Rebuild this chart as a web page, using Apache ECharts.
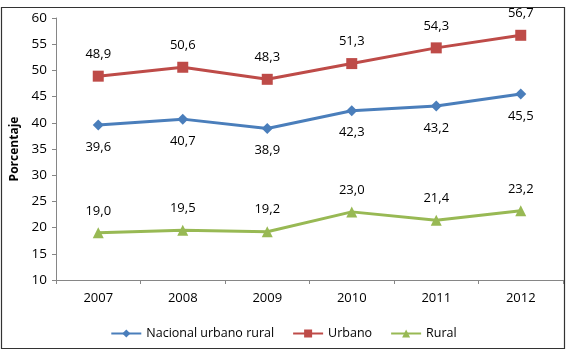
<!DOCTYPE html>
<html>
<head>
<meta charset="utf-8">
<script src="https://cdn.jsdelivr.net/npm/echarts@6/dist/echarts.min.js"></script>
<style>
  html, body { margin: 0; padding: 0; background: #fff; }
  #chart { width: 567px; height: 351px; }
</style>
</head>
<body>
<div id="chart"></div>
<script>
// datos
var years = ['2007', '2008', '2009', '2010', '2011', '2012'];
var nacional = [39.6, 40.7, 38.9, 42.3, 43.2, 45.5];
var urbano = [48.9, 50.6, 48.3, 51.3, 54.3, 56.7];
var rural = [19.0, 19.5, 19.2, 23.0, 21.4, 23.2];

var font = 'Open Sans';

function fmt(p) {
    return p.value.toFixed(1).replace('.', ',');
}

var myChart = echarts.init(document.getElementById('chart'));

var option = {
    animation: false,
    textStyle: { fontFamily: font },
    color: ['#4a7ebb', '#be4b48', '#98b954'],
    // marco exterior
    graphic: [{
        type: 'rect',
        shape: { x: 1.5, y: 7.5, width: 563, height: 341 },
        style: { fill: 'none', stroke: '#333', lineWidth: 1.2 },
        silent: true
    }],
    grid: { left: 56, right: 4, top: 18, bottom: 71 },
    legend: {
        bottom: 6,
        left: 'center',
        itemWidth: 30,
        itemHeight: 10,
        itemGap: 18,
        textStyle: { fontSize: 12.5, color: '#000', fontFamily: font },
        data: ['Nacional urbano rural', 'Urbano', 'Rural']
    },
    xAxis: {
        type: 'category',
        data: years,
        boundaryGap: true,
        axisLine: { lineStyle: { color: '#868686', width: 1 } },
        axisTick: { show: true, length: 4, lineStyle: { color: '#868686' } },
        axisLabel: { color: '#000', fontSize: 13, margin: 12 }
    },
    yAxis: {
        type: 'value',
        min: 10,
        max: 60,
        interval: 5,
        name: 'Porcentaje',
        nameLocation: 'middle',
        nameGap: 34,
        nameTextStyle: { fontSize: 12, fontWeight: 'bold', color: '#000' },
        axisLine: { show: true, lineStyle: { color: '#868686', width: 1 } },
        axisTick: { show: true, length: 4, lineStyle: { color: '#868686' } },
        axisLabel: { color: '#000', fontSize: 13.5, margin: 9 },
        splitLine: { show: false }
    },
    series: [{
        name: 'Nacional urbano rural',
        type: 'line',
        data: nacional,
        symbol: 'diamond',
        symbolSize: 11,
        lineStyle: { width: 3 },
        label: { show: true, position: 'bottom', distance: 10, fontSize: 13, color: '#000', formatter: fmt }
    }, {
        name: 'Urbano',
        type: 'line',
        data: urbano,
        symbol: 'rect',
        symbolSize: 11,
        lineStyle: { width: 3 },
        label: { show: true, position: 'top', distance: 10, fontSize: 13, color: '#000', formatter: fmt }
    }, {
        name: 'Rural',
        type: 'line',
        data: rural,
        symbol: 'triangle',
        symbolSize: 11,
        lineStyle: { width: 3 },
        label: { show: true, position: 'top', distance: 10, fontSize: 13, color: '#000', formatter: fmt }
    }]
};

myChart.setOption(option);
</script>
</body>
</html>
